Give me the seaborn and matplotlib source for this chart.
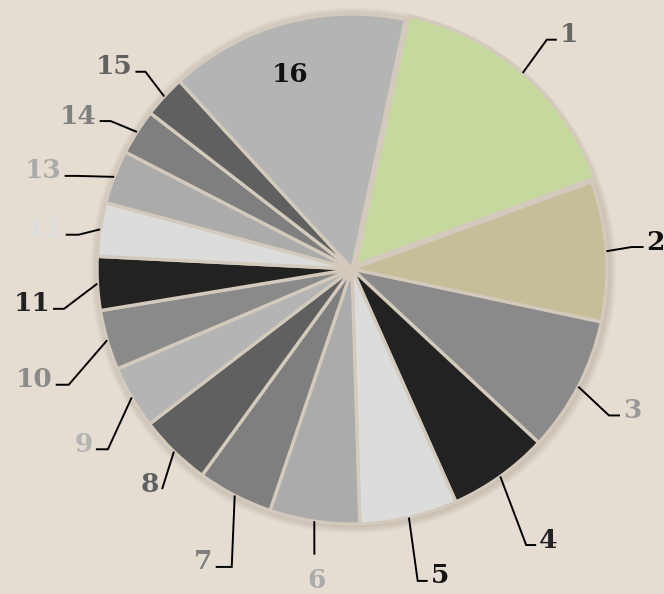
import numpy as np
import matplotlib
matplotlib.use("Agg")
import matplotlib.pyplot as plt
import seaborn as sns
from matplotlib.patches import Circle

# ---------------- data ----------------
labels = [str(i) for i in range(1, 17)]
values = [16.1, 8.9, 8.6, 6.4, 6.2, 5.7, 4.8, 4.6, 4.0, 3.8, 3.4, 3.4, 3.4, 2.9, 2.7, 15.2]
slice_colors = ["#c5d89e", "#c6be98", "#8a8a8a", "#222222", "#dcdcdc", "#ababab",
                "#7f7f7f", "#606060", "#b4b4b4", "#8a8a8a", "#222222", "#dcdcdc",
                "#ababab", "#7f7f7f", "#606060", "#b4b4b4"]
label_colors = ["#666666", "#111111", "#999999", "#222222", "#111111", "#ababab",
                "#7f7f7f", "#606060", "#b4b4b4", "#8a8a8a", "#222222", "#dcdcdc",
                "#ababab", "#7f7f7f", "#606060", "#111111"]

# ---------------- label layout (styling) ----------------
label_shift = [-0.7, -0.5, 2.2, 3.3, 1.0, -1.0, -5.4, -3.5, -6.2, -6.0, -4.6, -1.8, -2.5, -1.0, 1.1, -2.3]
label_dist = [1.18, 1.10, 1.16, 1.28, 1.25, 1.13, 1.26, 1.14, 1.19, 1.20, 1.14, 1.08, 1.14, 1.11, 1.12, 0.80]
label_hook = [10, 12, 11, 10, 10, 0, 16, 0, 12, 13, 11, 13, 12, 11, 10, 0]
label_mode = ["side"] * 5 + ["below"] + ["side"] * 9 + ["inside"]

BG = "#e5ddd1"
EDGE = "#d3c9bc"

sns.set_style("white", {"axes.facecolor": BG, "figure.facecolor": BG})
plt.rcParams["font.family"] = ["DejaVu Serif", "DejaVu Sans"]

W, H = 664, 594
fig = plt.figure(figsize=(W / 100, H / 100), dpi=100, facecolor=BG)
ax = fig.add_axes([0, 0, 1, 1])
ax.set_facecolor(BG)

cx, cy, R = 352, H - 269, 255

# soft shadow
for k in range(1, 9):
    ax.add_patch(Circle((cx + 1.5, cy - 1.5), R + k, facecolor="#5a4a38",
                        alpha=0.025, edgecolor="none", zorder=0.5))

explode = [5] + [0] * 15
wedges, _ = ax.pie(values, colors=slice_colors, startangle=77.9, counterclock=False,
                   center=(cx, cy), radius=R, explode=explode,
                   wedgeprops=dict(edgecolor=EDGE, linewidth=2.4))
for w in wedges:
    w.set_zorder(1)

FS = 19
for i, w in enumerate(wedges):
    mid = np.deg2rad((w.theta1 + w.theta2) / 2)
    wx, wy = w.center
    a = mid - np.deg2rad(label_shift[i])
    col = label_colors[i]
    if label_mode[i] == "inside":
        tx = cx + label_dist[i] * R * np.cos(a)
        ty = cy + label_dist[i] * R * np.sin(a)
        ax.text(tx, ty, labels[i], ha="center", va="center", fontsize=FS,
                fontweight="bold", color=col, zorder=3)
        continue
    sx = wx + R * np.cos(mid)
    sy = wy + R * np.sin(mid)
    ex = cx + label_dist[i] * R * np.cos(a)
    ey = cy + label_dist[i] * R * np.sin(a)
    if label_mode[i] == "below":
        ax.plot([sx, ex], [sy, ey], color="black", lw=1.4, zorder=2,
                solid_capstyle="butt")
        ax.text(ex + 2, ey - 26, labels[i], ha="center", va="center", fontsize=FS,
                fontweight="bold", color=col, zorder=3)
        continue
    side = 1 if np.cos(a) > 0 else -1
    hx = ex + side * label_hook[i]
    ax.plot([sx, ex, hx], [sy, ey, ey], color="black", lw=1.4, zorder=2,
            solid_capstyle="butt", solid_joinstyle="miter")
    ax.text(hx + side * 3, ey + 5, labels[i], ha="left" if side > 0 else "right",
            va="center", fontsize=FS, fontweight="bold", color=col, zorder=3)

ax.set_xlim(0, W)
ax.set_ylim(0, H)
ax.set_aspect("equal")
ax.axis("off")

fig.savefig("out.png", dpi=100, facecolor=BG)
